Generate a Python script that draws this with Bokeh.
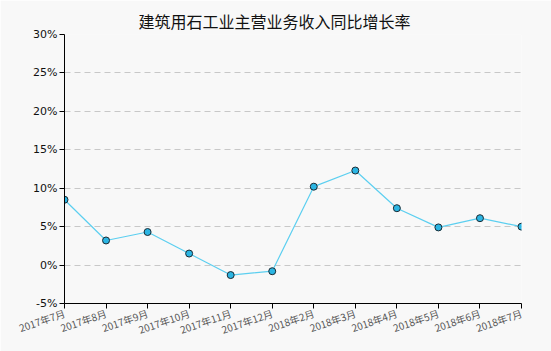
from bokeh.plotting import figure
from bokeh.models import Range1d, FixedTicker
from bokeh.embed import file_html
from bokeh.resources import INLINE

title = "建筑用石工业主营业务收入同比增长率"
months = ["2017年7月", "2017年8月", "2017年9月", "2017年10月", "2017年11月", "2017年12月",
          "2018年2月", "2018年3月", "2018年4月", "2018年5月", "2018年6月", "2018年7月"]
values = [8.5, 3.2, 4.3, 1.5, -1.3, -0.8, 10.2, 12.3, 7.4, 4.9, 6.1, 5.0]
y_ticks = [-5, 0, 5, 10, 15, 20, 25, 30]

xs = list(range(len(months)))

p = figure(width=551, height=351, output_backend="svg", toolbar_location=None,
           x_range=Range1d(0, len(months) - 1), y_range=Range1d(-5, 30),
           min_border_left=64, min_border_right=30, min_border_top=34, min_border_bottom=48,
           background_fill_color="#f8f8f8", border_fill_color="#f8f8f8")
p.outline_line_color = None

p.title.text = title
p.title.align = "left"
p.title.vertical_align = "top"
p.title.text_font = "Noto Sans CJK SC"
p.title.text_font_size = "16px"
p.title.text_font_style = "normal"
p.title.text_color = "#111111"
p.title.text_line_height = 0.8
p.title.offset = 74
p.title.standoff = 0

p.xgrid.grid_line_color = None
p.ygrid.grid_line_color = "#c8c8c8"
p.ygrid.grid_line_dash = "6 4"

p.yaxis.ticker = FixedTicker(ticks=y_ticks)
p.yaxis.major_label_overrides = {t: f"{t}%" for t in y_ticks}
p.yaxis.minor_tick_line_color = None
p.yaxis.major_tick_out = 5
p.yaxis.major_tick_in = 0
p.yaxis.axis_line_color = "black"
p.yaxis.major_label_text_font = "DejaVu Sans"
p.yaxis.major_label_text_font_size = "11px"
p.yaxis.major_label_text_color = "#111111"
p.yaxis.major_label_standoff = 2

p.xaxis.ticker = FixedTicker(ticks=xs)
p.xaxis.major_label_overrides = {i: m for i, m in enumerate(months)}
p.xaxis.major_label_orientation = 0.33
p.xaxis.minor_tick_line_color = None
p.xaxis.major_tick_out = 5
p.xaxis.major_tick_in = 0
p.xaxis.axis_line_color = "black"
p.xaxis.major_label_text_font = "Noto Sans CJK SC"
p.xaxis.major_label_text_font_size = "10px"
p.xaxis.major_label_text_color = "#555555"
p.xaxis.major_label_standoff = 4

p.line(xs, values, line_color="#5ccff0", line_width=1.2)
p.scatter(xs, values, size=7, fill_color="#2bb5e3", line_color="#1a2a33", line_width=1)

open("out.html", "w").write(file_html(p, INLINE))
